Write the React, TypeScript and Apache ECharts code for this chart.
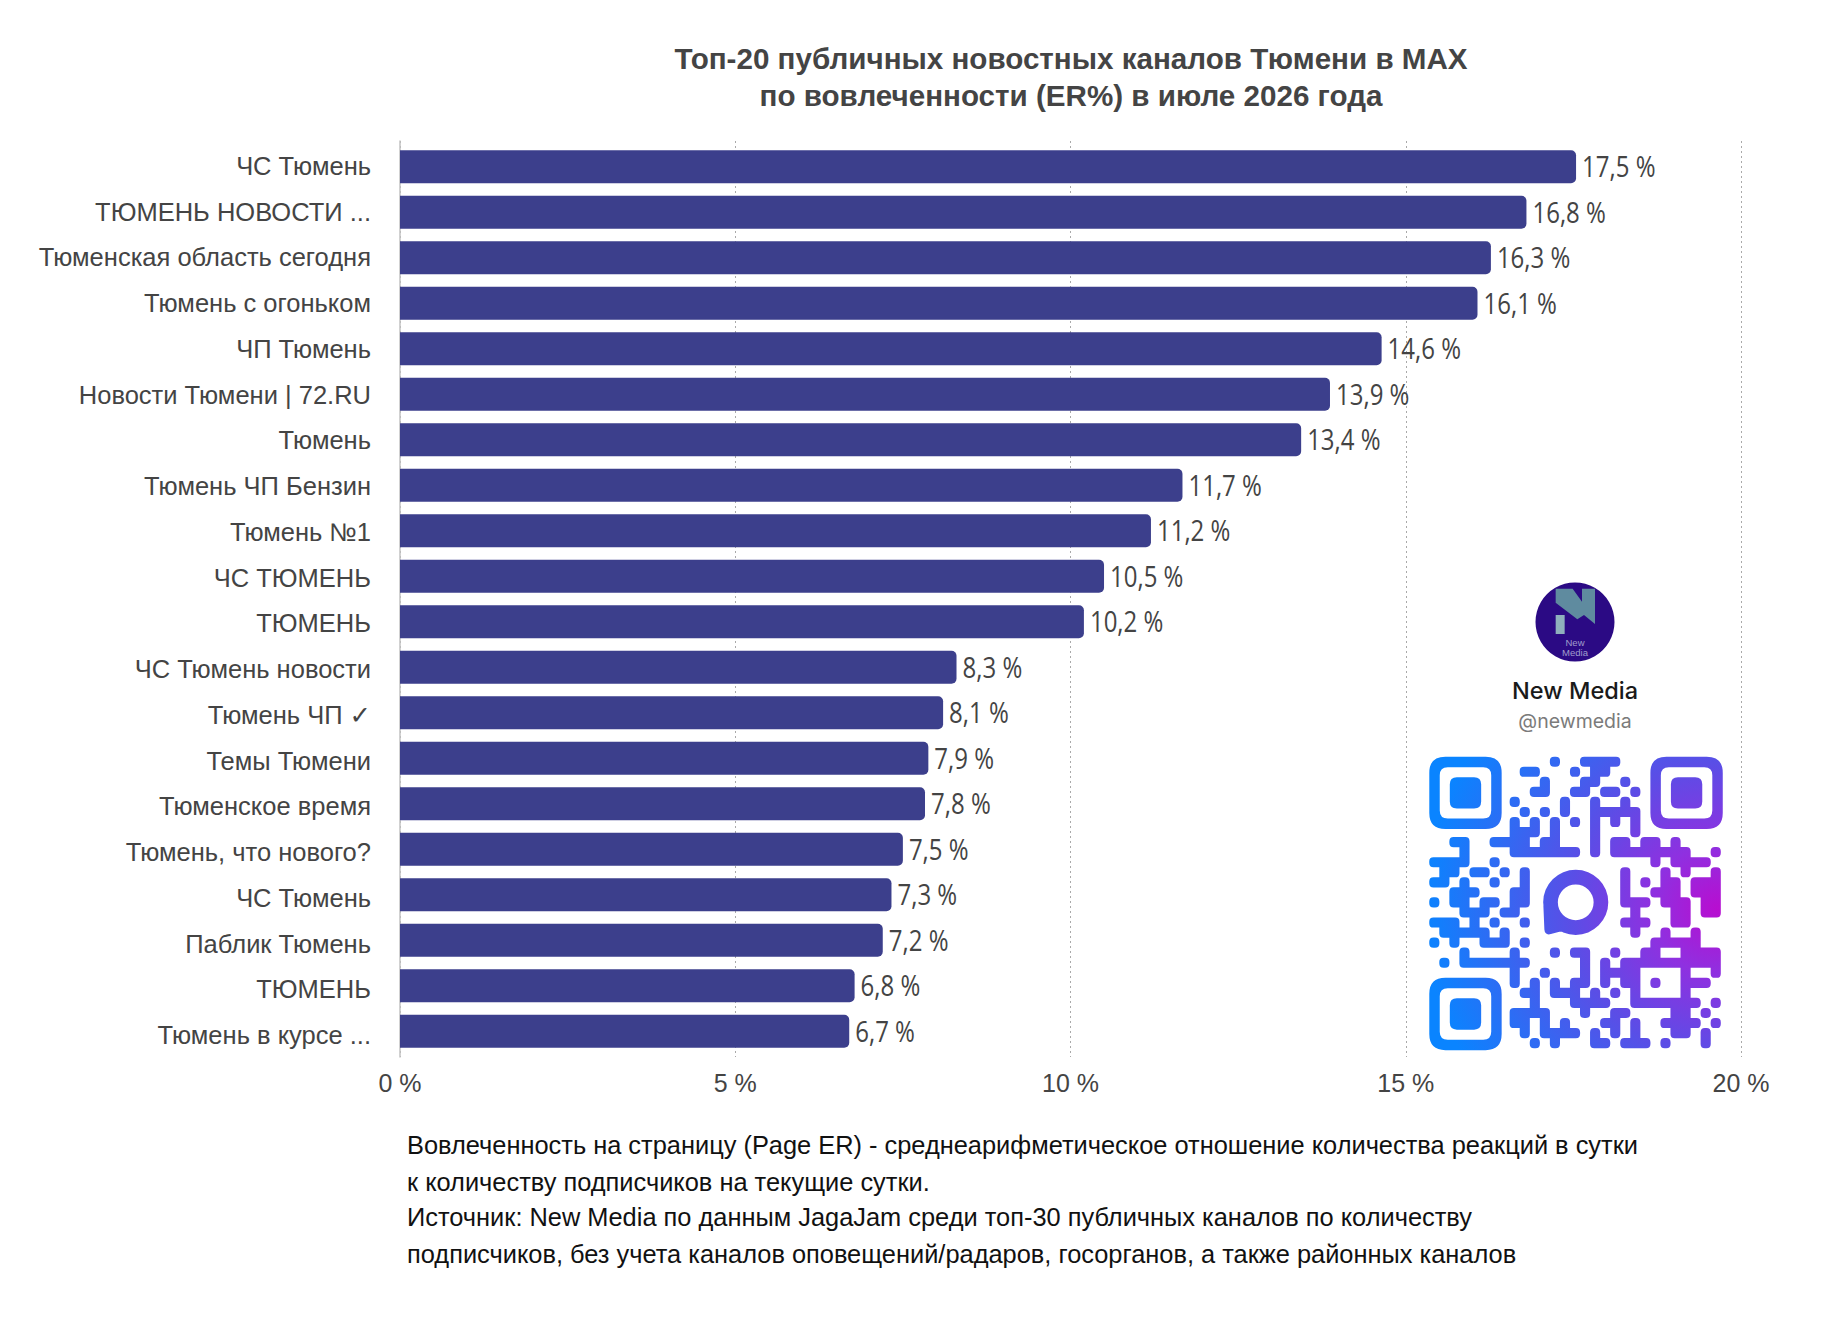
import React, { useEffect, useRef } from "react";
import * as echarts from "echarts";

const CATEGORIES = [
  "ЧС Тюмень", "ТЮМЕНЬ НОВОСТИ ...", "Тюменская область сегодня", "Тюмень с огоньком", "ЧП Тюмень",
  "Новости Тюмени | 72.RU", "Тюмень", "Тюмень ЧП Бензин", "Тюмень №1", "ЧС ТЮМЕНЬ",
  "ТЮМЕНЬ", "ЧС Тюмень новости", "Тюмень ЧП ✓", "Темы Тюмени", "Тюменское время",
  "Тюмень, что нового?", "ЧС Тюмень", "Паблик Тюмень", "ТЮМЕНЬ", "Тюмень в курсе ...",
];
const VALUES = [17.54, 16.8, 16.27, 16.07, 14.64, 13.87, 13.44, 11.67, 11.2, 10.5, 10.2, 8.3, 8.1, 7.88, 7.83, 7.5, 7.33, 7.2, 6.78, 6.7];
const TITLE = "Топ-20 публичных новостных каналов Тюмени в MAX\nпо вовлеченности (ER%) в июле 2026 года";
const FOOTER_LINES = [
  "Вовлеченность на страницу (Page ER) - среднеарифметическое отношение количества реакций в сутки",
  "к количеству подписчиков на текущие сутки.",
  "Источник: New Media по данным JagaJam среди топ-30 публичных каналов по количеству",
  "подписчиков, без учета каналов оповещений/радаров, госорганов, а также районных каналов",
];
const QR_CELLS = [
  [12, 15, 16, 17, 18],
  [9, 10, 14, 16, 17],
  [11, 15, 16, 19],
  [10, 11, 14, 15, 17, 18, 20],
  [8, 13, 16, 19],
  [9, 11, 13, 16, 17, 18, 19, 20],
  [8, 10, 12, 14, 16, 18, 20],
  [8, 9, 10, 12, 16, 20],
  [2, 3, 6, 7, 8, 9, 11, 12, 16, 18, 19, 21, 22, 24],
  [3, 8, 9, 10, 11, 12, 13, 14, 16, 18, 19, 20, 21, 22, 23, 24, 25, 28],
  [0, 1, 2, 3, 6, 22, 24, 25, 26, 27],
  [1, 2, 4, 5, 7, 9, 19, 23, 25, 28],
  [0, 1, 3, 6, 9, 19, 21, 23, 24, 26, 27, 28],
  [2, 3, 4, 8, 9, 19, 22, 23, 24, 26, 27, 28],
  [0, 2, 3, 5, 6, 8, 9, 19, 20, 21, 23, 24, 25, 27, 28],
  [3, 4, 5, 7, 8, 20, 24, 25, 27, 28],
  [0, 1, 2, 4, 6, 9, 19, 20, 21, 24, 25],
  [1, 2, 3, 4, 5, 7, 20, 23, 26],
  [0, 2, 5, 6, 7, 9, 22, 23, 24, 25, 26],
  [3, 8, 12, 14, 15, 18, 21, 22, 25, 26, 27, 28],
  [1, 3, 4, 5, 6, 7, 8, 9, 15, 17, 19, 20, 21, 22, 23, 24, 25, 26, 27, 28],
  [8, 11, 15, 17, 18, 19, 20, 25, 28],
  [8, 10, 12, 14, 15, 17, 19, 20, 22, 25, 26, 27],
  [9, 10, 12, 13, 14, 16, 18, 20, 25],
  [10, 14, 15, 16, 17, 20, 21, 22, 23, 24, 25, 26, 28],
  [8, 9, 10, 11, 15, 18, 19, 24, 25, 27],
  [8, 9, 11, 13, 17, 18, 20, 23, 24, 25, 26, 28],
  [9, 11, 12, 13, 14, 16, 18, 20, 24, 25, 27],
  [10, 12, 16, 17, 19, 20, 21, 23, 27],
];
const QR_FINDERS = [[0, 0], [22, 0], [0, 22]];

function rr(x: number, y: number, w: number, h: number, a: number, b: number, c: number, d: number, ccw = false) {
  if (!ccw) {
    return `M${x + a} ${y}L${x + w - b} ${y}Q${x + w} ${y} ${x + w} ${y + b}L${x + w} ${y + h - c}Q${x + w} ${y + h} ${x + w - c} ${y + h}L${x + d} ${y + h}Q${x} ${y + h} ${x} ${y + h - d}L${x} ${y + a}Q${x} ${y} ${x + a} ${y}Z`;
  }
  return `M${x + a} ${y}Q${x} ${y} ${x} ${y + a}L${x} ${y + h - d}Q${x} ${y + h} ${x + d} ${y + h}L${x + w - c} ${y + h}Q${x + w} ${y + h} ${x + w} ${y + h - c}L${x + w} ${y + b}Q${x + w} ${y} ${x + w - b} ${y}L${x + a} ${y}Z`;
}

function buildQrPath() {
  const on = (c: number, r: number) => (QR_CELLS[r] || []).includes(c);
  const U = 10;
  let d = "";
  QR_CELLS.forEach((cols, r) => {
    cols.forEach((c) => {
      const R = 4.2;
      const t = !on(c, r - 1), b = !on(c, r + 1), l = !on(c - 1, r), ri = !on(c + 1, r);
      d += rr(c * U - 0.05, r * U - 0.05, U + 0.1, U + 0.1, t && l ? R : 0, t && ri ? R : 0, b && ri ? R : 0, b && l ? R : 0);
    });
  });
  QR_FINDERS.forEach(([c, r]) => {
    const x = c * U, y = r * U;
    d += rr(x, y, 7.2 * U, 7.2 * U, 16, 16, 16, 16);
    d += rr(x + 10.4, y + 10.4, 51.2, 51.2, 8, 8, 8, 8, true);
    d += rr(x + 20.4, y + 20.4, 31.2, 31.2, 7, 7, 7, 7);
  });
  const cx = 145.7, cy = 144.9, ro = 32.4, ri = 17.8;
  d += `M${cx - ro} ${cy}A${ro} ${ro} 0 1 1 ${cx + ro} ${cy}A${ro} ${ro} 0 1 1 ${cx - ro} ${cy}Z`;
  d += `M${cx - ri} ${cy}A${ri} ${ri} 0 1 0 ${cx + ri} ${cy}A${ri} ${ri} 0 1 0 ${cx - ri} ${cy}Z`;
  d += `M113.5 148L138 172L121 176.5Q115 178 114.5 172Z`;
  return d;
}

const z2 = (pts: number[][]) => pts.map(([x, y]) => [1380 + x / 3, 560 + y / 3]);
const FONT = "'Liberation Sans', 'DejaVu Sans', sans-serif";
const TEXT = "#444444";

export default function App() {
  const ref = useRef<HTMLDivElement>(null);
  useEffect(() => {
    echarts.graphic.registerShape("qrcode", echarts.graphic.extendPath(buildQrPath(), {}));
    const chart = echarts.init(ref.current!, null, { renderer: "svg" });
    const footer = FOOTER_LINES.map((text, i) => ({
      type: "text",
      x: 407,
      y: [1145, 1182, 1217, 1254][i],
      style: { text, font: `25.4px ${FONT}`, fill: "#111111", verticalAlign: "middle" },
    }));
    chart.setOption({
      animation: false,
      backgroundColor: "#ffffff",
      title: {
        text: TITLE,
        left: 1066,
        top: 35,
        textAlign: "center",
        textStyle: { fontFamily: FONT, fontSize: 29.6, fontWeight: "bold", color: TEXT, lineHeight: 37 },
      },
      grid: [
        { left: 400, width: 1341, top: 141, height: 916 },
        { left: 400, width: 1341, top: 144, height: 910 },
        { left: 400, width: 1341, top: 143, height: 915 },
      ],
      xAxis: [
        {
          type: "value", gridIndex: 0, min: 0, max: 20, interval: 5,
          axisLine: { show: false }, axisTick: { show: false },
          axisLabel: { formatter: "{value} %", margin: 13, fontFamily: FONT, fontSize: 25, color: TEXT, hideOverlap: false },
          splitLine: { show: true, lineStyle: { color: "#a9a9a9", width: 1, type: [2, 3] } },
        },
        { type: "value", gridIndex: 1, min: 0, max: 20, show: false },
        { type: "value", gridIndex: 2, min: 0, max: 20, show: false },
      ],
      yAxis: [
        {
          type: "category", gridIndex: 0, data: [""],
          axisLine: { show: true, lineStyle: { color: "#c2c2c2", width: 1.5 } },
          axisTick: { show: false }, axisLabel: { show: false }, splitLine: { show: false },
        },
        {
          type: "category", gridIndex: 1, inverse: true, data: CATEGORIES,
          axisLine: { show: false }, axisTick: { show: false }, axisLabel: { show: false },
        },
        {
          type: "category", gridIndex: 2, inverse: true, data: CATEGORIES,
          axisLine: { show: false }, axisTick: { show: false },
          axisLabel: { interval: 0, margin: 29, fontFamily: FONT, fontSize: 25.5, color: TEXT },
        },
      ],
      series: [
        {
          type: "bar", xAxisIndex: 1, yAxisIndex: 1, data: VALUES, barWidth: 33,
          itemStyle: { color: "#3c3f8c", borderRadius: [0, 5, 5, 0] },
        },
        {
          type: "custom", xAxisIndex: 1, yAxisIndex: 1, z: 3,
          data: VALUES.map((v, i) => [v, i]),
          encode: { x: 0, y: 1 },
          renderItem: (_p: any, api: any) => {
            const v = api.value(0);
            const pt = api.coord([v, api.value(1)]);
            return {
              type: "text", x: pt[0] + 6, y: pt[1] - 1, scaleX: 0.8,
              style: {
                text: v.toFixed(1).replace(".", ",") + " %",
                font: "30px 'Open Sans', sans-serif", fill: TEXT, verticalAlign: "middle", align: "left",
              },
            };
          },
        },
      ],
      graphic: [
        ...footer,
        { type: "circle", shape: { cx: 1575, cy: 622, r: 39.5 }, style: { fill: "#2b0a84" } },
        { type: "polygon", shape: { points: z2([[527, 86], [578, 86], [606, 125], [606, 86], [645, 86], [645, 192], [612, 165], [592, 178], [527, 128]]) }, style: { fill: "#5f8b9f" } },
        { type: "polygon", shape: { points: z2([[527, 165], [554, 165], [554, 222], [527, 222]]) }, style: { fill: "#8fb0bd" } },
        { type: "text", x: 1575, y: 647, style: { text: "New\nMedia", font: `9.5px ${FONT}`, fill: "#a09dcc", align: "center", verticalAlign: "middle", lineHeight: 10 } },
        { type: "text", x: 1575, y: 690, style: { text: "New Media", font: `500 23.5px Inter, ${FONT}`, fill: "#1a1a1a", align: "center", verticalAlign: "middle" } },
        { type: "text", x: 1575, y: 721, style: { text: "@newmedia", font: `19.5px Inter, ${FONT}`, fill: "#7b7b7b", align: "center", verticalAlign: "middle" } },
        {
          type: "qrcode", x: 1429.3, y: 756.7, scaleX: 1.005, scaleY: 1.005,
          style: {
            fill: new echarts.graphic.RadialGradient(0.98, 0.52, 1.0, [
              { offset: 0, color: "#b80ed0" },
              { offset: 0.22, color: "#8f30e0" },
              { offset: 0.5, color: "#5a4ee6" },
              { offset: 1, color: "#0a84ff" },
            ]),
          },
        },
      ],
    });
    return () => chart.dispose();
  }, []);
  return <div ref={ref} style={{ position: "fixed", left: 0, top: 0, width: 1844, height: 1334, background: "#fff" }} />;
}
